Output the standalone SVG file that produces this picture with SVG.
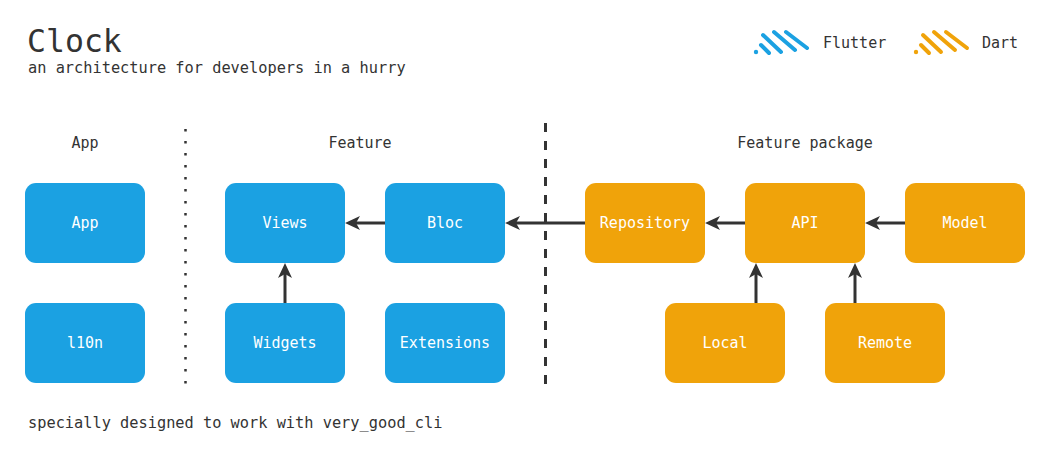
<svg xmlns="http://www.w3.org/2000/svg" width="1051" height="462" viewBox="0 0 1051 462">
<style>
text{font-family:"DejaVu Sans Mono","Liberation Mono",monospace;}
.t{fill:#333;font-size:15px;}
.h{fill:#333;font-size:15px;text-anchor:middle;}
.lbl{fill:#fff;font-size:15px;text-anchor:middle;dominant-baseline:central;}
.blue{fill:#1ba1e2;}
.orange{fill:#f0a30a;}
.edge{stroke:#333;stroke-width:3;fill:none;}
.fl{stroke:#1ba1e2;stroke-width:4;stroke-linecap:round;fill:none;}
.da{stroke:#f0a30a;stroke-width:4;stroke-linecap:round;fill:none;}
</style>
<defs>
<marker id="arr" viewBox="-16 -8 17 16" refX="-11" refY="0" markerWidth="17" markerHeight="16" markerUnits="userSpaceOnUse" orient="auto">
<path d="M0,0 L-15,-7 L-11,0 L-15,7 Z" fill="#333"/>
</marker>
</defs>
<rect width="1051" height="462" fill="#fff"/>

<g id="title">
<text x="27" y="52" style="fill:#333;font-size:31.5px;">Clock</text>
<text x="28" y="73" class="t" style="font-size:15.3px;">an architecture for developers in a hurry</text>
<text x="28" y="428" class="t" style="font-size:15.3px;">specially designed to work with very_good_cli</text>
</g>

<g id="legend">
<circle cx="756" cy="52" r="2.2" fill="#1ba1e2"/>
<path class="fl" d="M761,45 L769,53 M763,35 L781,52 M774,32 L795,50 M786,32 L807,48"/>
<text x="823" y="48" class="t">Flutter</text>
<circle cx="916" cy="52" r="2.2" fill="#f0a30a"/>
<path class="da" d="M921,45 L929,53 M923,35 L941,52 M934,32 L955,50 M946,32 L967,48"/>
<text x="982" y="48" class="t">Dart</text>
</g>

<g id="headers">
<text x="85" y="148" class="h">App</text>
<text x="360" y="148" class="h">Feature</text>
<text x="805" y="148" class="h">Feature package</text>
</g>

<g id="dividers">
<line x1="185.5" y1="129" x2="185.5" y2="384" stroke="#333" stroke-width="2.5" stroke-dasharray="2.5 9.5"/>
<line x1="545.5" y1="123" x2="545.5" y2="384" stroke="#333" stroke-width="3" stroke-dasharray="9 9"/>
</g>

<g id="node-app"><rect x="25" y="183" width="120" height="80" rx="11" class="blue"/><text x="85" y="223" class="lbl">App</text></g>
<g id="node-l10n"><rect x="25" y="303" width="120" height="80" rx="11" class="blue"/><text x="85" y="343" class="lbl">l10n</text></g>
<g id="node-views"><rect x="225" y="183" width="120" height="80" rx="11" class="blue"/><text x="285" y="223" class="lbl">Views</text></g>
<g id="node-bloc"><rect x="385" y="183" width="120" height="80" rx="11" class="blue"/><text x="445" y="223" class="lbl">Bloc</text></g>
<g id="node-widgets"><rect x="225" y="303" width="120" height="80" rx="11" class="blue"/><text x="285" y="343" class="lbl">Widgets</text></g>
<g id="node-extensions"><rect x="385" y="303" width="120" height="80" rx="11" class="blue"/><text x="445" y="343" class="lbl">Extensions</text></g>
<g id="node-repository"><rect x="585" y="183" width="120" height="80" rx="11" class="orange"/><text x="645" y="223" class="lbl">Repository</text></g>
<g id="node-api"><rect x="745" y="183" width="120" height="80" rx="11" class="orange"/><text x="805" y="223" class="lbl">API</text></g>
<g id="node-model"><rect x="905" y="183" width="120" height="80" rx="11" class="orange"/><text x="965" y="223" class="lbl">Model</text></g>
<g id="node-local"><rect x="665" y="303" width="120" height="80" rx="11" class="orange"/><text x="725" y="343" class="lbl">Local</text></g>
<g id="node-remote"><rect x="825" y="303" width="120" height="80" rx="11" class="orange"/><text x="885" y="343" class="lbl">Remote</text></g>

<g id="connectors">
<line class="edge" x1="385" y1="223" x2="356" y2="223" marker-end="url(#arr)"/>
<line class="edge" x1="585" y1="223" x2="516" y2="223" marker-end="url(#arr)"/>
<line class="edge" x1="745" y1="223" x2="716" y2="223" marker-end="url(#arr)"/>
<line class="edge" x1="905" y1="223" x2="876" y2="223" marker-end="url(#arr)"/>
<line class="edge" x1="285" y1="303" x2="285" y2="274" marker-end="url(#arr)"/>
<line class="edge" x1="756" y1="303" x2="756" y2="274" marker-end="url(#arr)"/>
<line class="edge" x1="855" y1="303" x2="855" y2="274" marker-end="url(#arr)"/>
</g>
</svg>
